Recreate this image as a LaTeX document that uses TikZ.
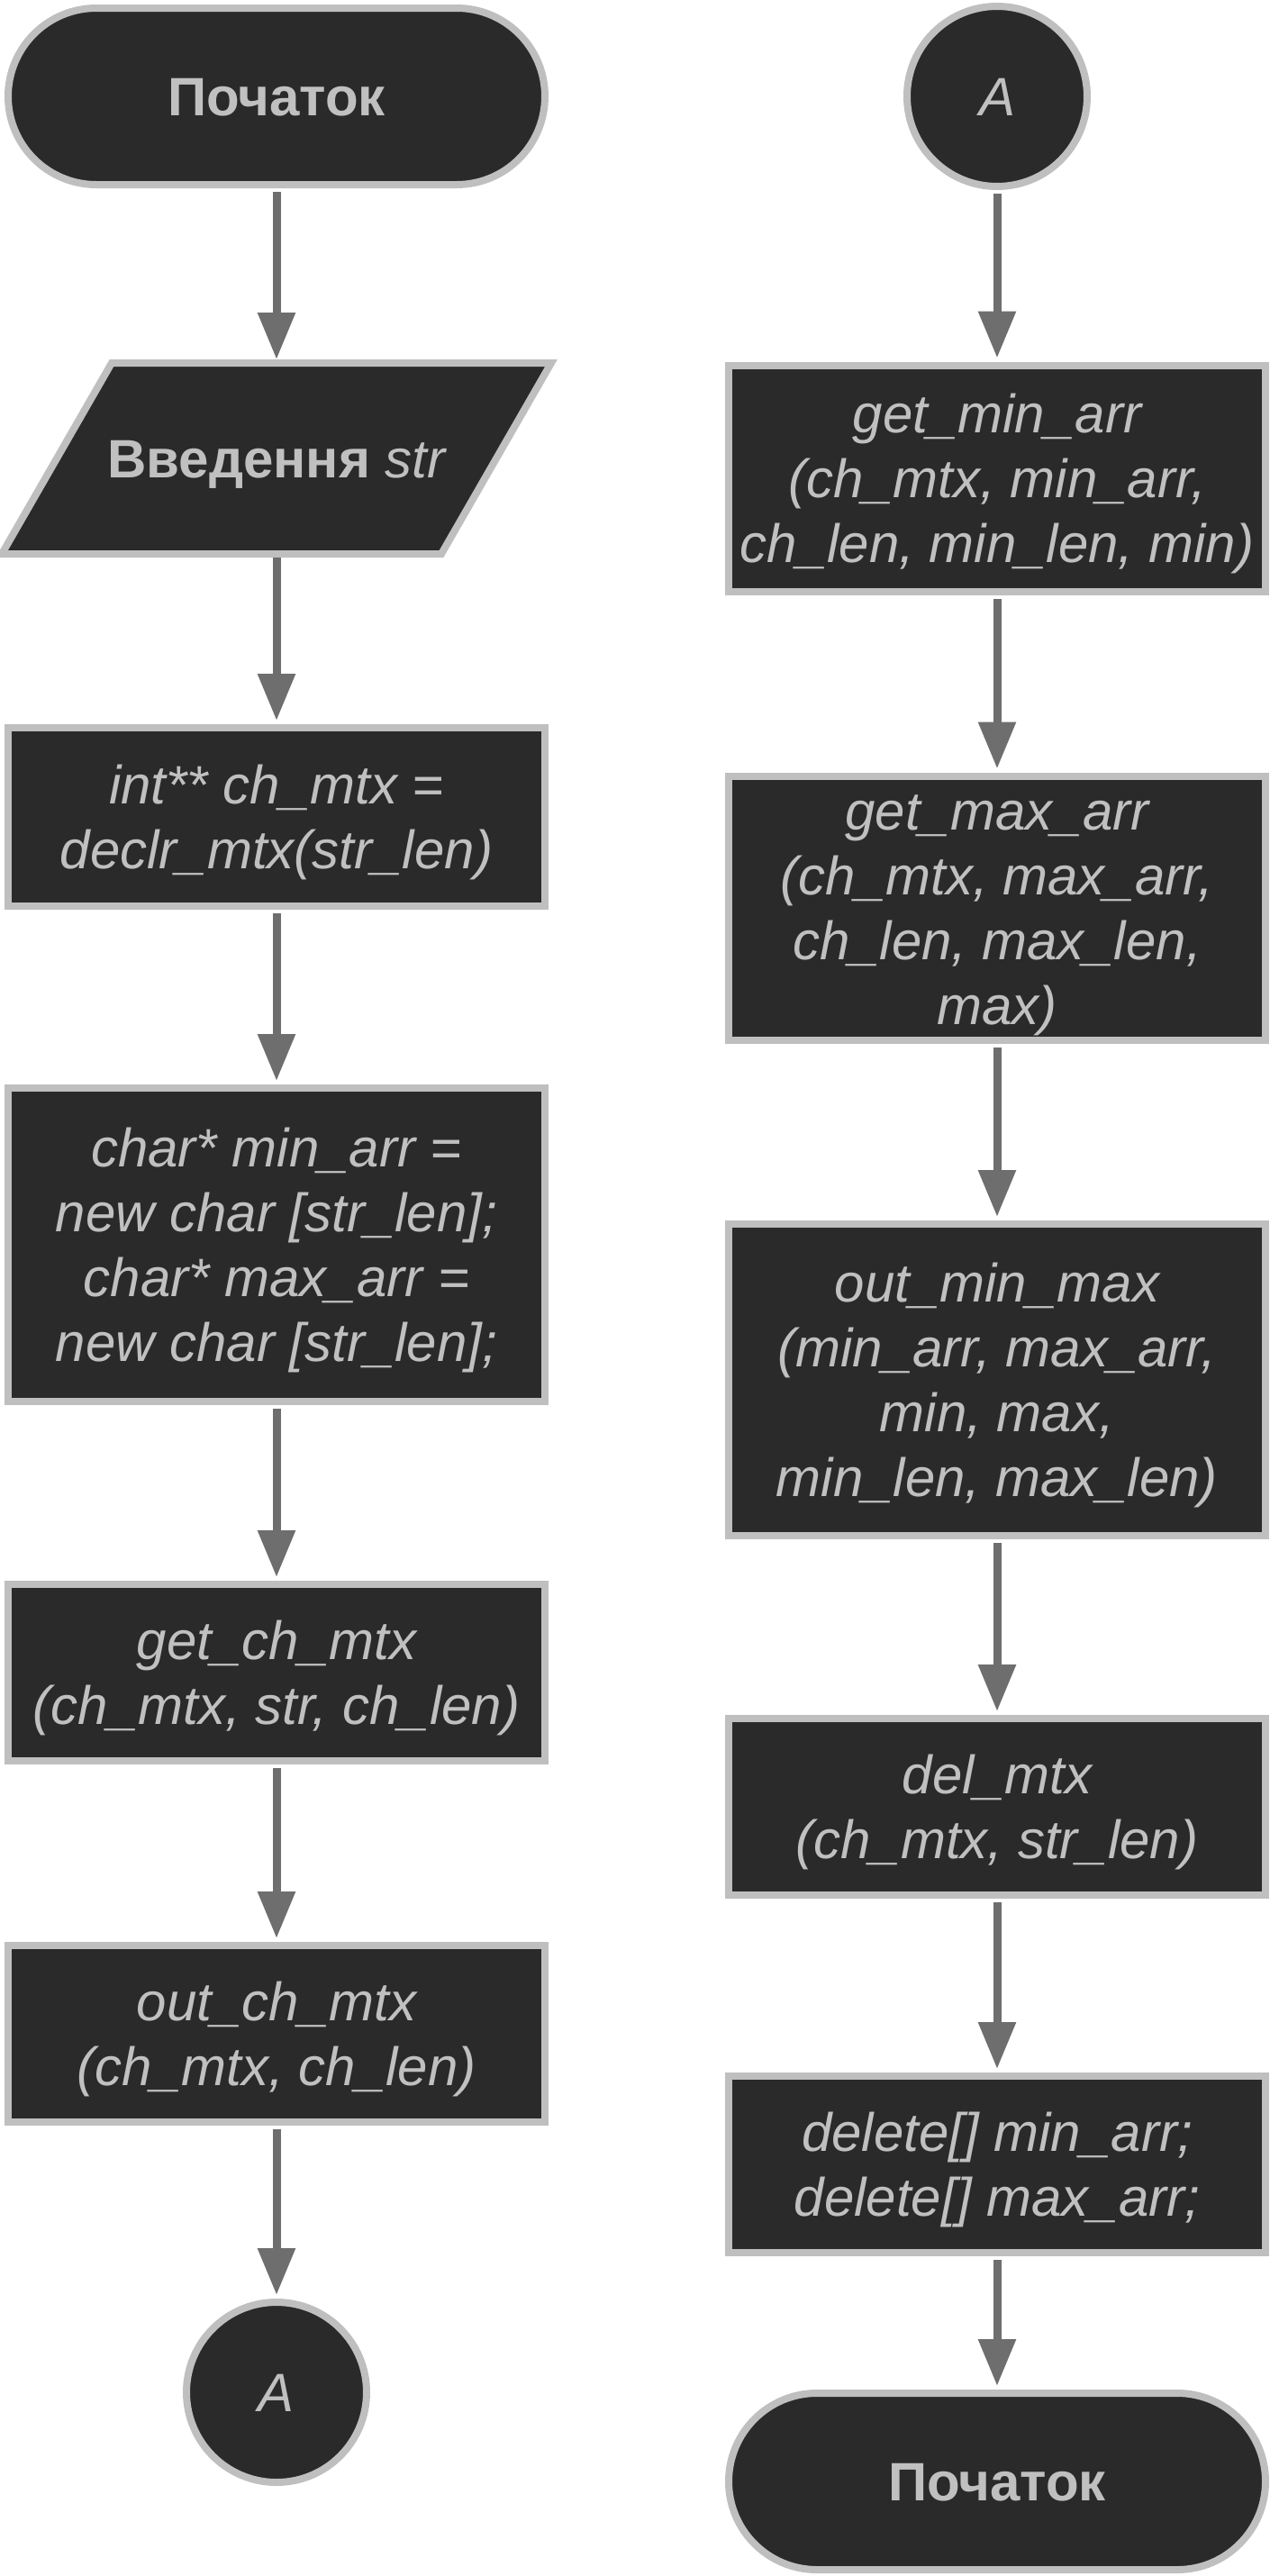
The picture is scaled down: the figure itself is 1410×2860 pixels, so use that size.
\documentclass[tikz,border=0pt]{standalone}
\usepackage{fontspec}
\setmainfont{Liberation Sans}
\usetikzlibrary{arrows.meta,backgrounds}
\definecolor{boxfill}{HTML}{2A2A2A}
\definecolor{boxline}{HTML}{BFBFBF}
\definecolor{txt}{HTML}{C0C0C0}
\definecolor{arr}{HTML}{6E6E6E}
\newcommand\ls{\rule[-15pt]{0pt}{72pt}}
\begin{document}
\begin{tikzpicture}[x=1pt,y=-1pt,
  base/.style={fill=boxfill, draw=boxline, line width=8pt, text=txt,
    font=\fontsize{60}{72}\selectfont\itshape, align=center, inner sep=0pt},
  proc/.style={base, rectangle, minimum width=596pt},
  term/.style={base, rectangle, rounded corners=98pt, minimum width=596pt, minimum height=196pt},
  conn/.style={base, circle, minimum size=200pt},
  flow/.style={draw=arr, line width=9pt, -{Triangle[width=40pt,length=52pt]},
    shorten <=4pt, shorten >=4pt}]
\useasboundingbox (0,0) rectangle (1410,2860);
% left column
\node[term] (start) at (307,107) {\ls\upshape\bfseries Початок};
\node[base, fill=none, draw=none, minimum width=602pt, minimum height=204pt] (inp) at (307,509)
  {\ls\upshape\bfseries Введення \mdseries\itshape str};
\begin{scope}[on background layer]
\draw[fill=boxfill, draw=boxline, line width=8pt]
  ([xshift=122pt]inp.north west) -- (inp.north east) -- ([xshift=-122pt]inp.south east)
  -- (inp.south west) -- cycle;
\end{scope}
\node[proc, minimum height=198pt] (decl) at (307,907) {\ls int** ch\_mtx =\\declr\_mtx(str\_len)\ls};
\node[proc, minimum height=348pt] (alloc) at (307,1382)
  {\ls char* min\_arr =\\new char [str\_len];\\char* max\_arr =\\new char [str\_len];\ls};
\node[proc, minimum height=196pt] (getch) at (307,1857) {\ls get\_ch\_mtx\\(ch\_mtx, str, ch\_len)\ls};
\node[proc, minimum height=196pt] (outch) at (307,2258) {\ls out\_ch\_mtx\\(ch\_mtx, ch\_len)\ls};
\node[conn] (conA) at (307,2656) {\ls A};
% right column
\node[conn] (conB) at (1107,107) {\ls A};
\node[proc, minimum height=251pt] (gmin) at (1107,531)
  {\ls get\_min\_arr\\(ch\_mtx, min\_arr,\\ch\_len, min\_len, min)\ls};
\node[proc, minimum height=293pt] (gmax) at (1107,1008)
  {\ls get\_max\_arr\\(ch\_mtx, max\_arr,\\ch\_len, max\_len,\\max)\ls};
\node[proc, minimum height=346pt] (omm) at (1107,1532)
  {\ls out\_min\_max\\(min\_arr, max\_arr,\\min, max,\\min\_len, max\_len)\ls};
\node[proc, minimum height=196pt] (del) at (1107,2006) {\ls del\_mtx\\(ch\_mtx, str\_len)\ls};
\node[proc, minimum height=196pt] (dele) at (1107,2403) {\ls delete[] min\_arr;\\delete[] max\_arr;\ls};
\node[term] (finish) at (1107,2755) {\ls\upshape\bfseries Початок};
% connectors
\draw[flow] (start) -- (inp);
\draw[flow] (inp) -- (decl);
\draw[flow] (decl) -- (alloc);
\draw[flow] (alloc) -- (getch);
\draw[flow] (getch) -- (outch);
\draw[flow] (outch) -- (conA);
\draw[flow] (conB) -- (gmin);
\draw[flow] (gmin) -- (gmax);
\draw[flow] (gmax) -- (omm);
\draw[flow] (omm) -- (del);
\draw[flow] (del) -- (dele);
\draw[flow] (dele) -- (finish);
\end{tikzpicture}
\end{document}
